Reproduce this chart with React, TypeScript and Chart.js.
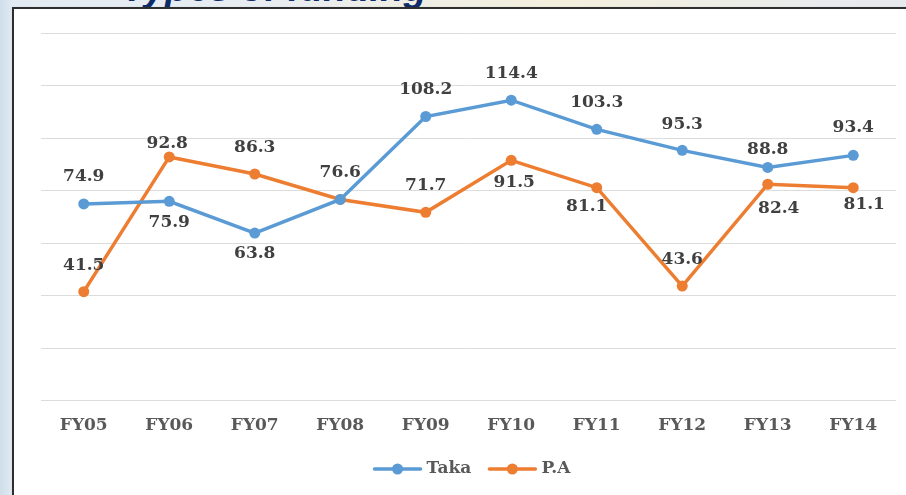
import React, { useEffect, useRef } from "react";
import { Chart, registerables } from "chart.js";

Chart.register(...registerables);

const categories = ["FY05", "FY06", "FY07", "FY08", "FY09", "FY10", "FY11", "FY12", "FY13", "FY14"];
const takaValues = [74.9, 75.9, 63.8, 76.6, 108.2, 114.4, 103.3, 95.3, 88.8, 93.4];
const paValues = [41.5, 92.8, 86.3, 76.6, 71.7, 91.5, 81.1, 43.6, 82.4, 81.1];
const yTicks = { min: 0, max: 140, step: 20 };
const seriesNames = ["Taka", "P.A"];
const titleText = "Types of funding";

// label placement (dx, dy from point centre); null = no label
const takaLabelOffsets: ([number, number] | null)[] = [
  [0, -27], [0, 21], [0, 20], null, [0, -27], [0, -27], [0, -27], [0, -26], [0, -18], [0, -28],
];
const paLabelOffsets: ([number, number] | null)[] = [
  [0, -26], [-2, -13], [0, -26], [0, -27], [0, -27], [3, 22], [-10, 19], [0, -27], [11, 24], [11, 17],
];

const BLUE = "#5B9BD5";
const ORANGE = "#ED7D31";
const FONT = "'DejaVu Serif', 'Liberation Serif', serif";

const labelPlugin = {
  id: "customLabels",
  afterDatasetsDraw(chart: any) {
    const ctx = chart.ctx;
    const offsets = [takaLabelOffsets, paLabelOffsets];
    ctx.save();
    ctx.font = `bold 17px ${FONT}`;
    ctx.fillStyle = "#404040";
    ctx.textAlign = "center";
    ctx.textBaseline = "middle";
    chart.data.datasets.forEach((ds: any, di: number) => {
      const meta = chart.getDatasetMeta(di);
      meta.data.forEach((pt: any, i: number) => {
        const off = offsets[di][i];
        if (!off) return;
        ctx.fillText(ds.data[i].toFixed(1), pt.x + off[0], pt.y + off[1]);
      });
    });
    ctx.restore();
  },
  afterDraw(chart: any) {
    const ctx = chart.ctx;
    const area = chart.chartArea;
    ctx.save();
    ctx.font = `bold 17px ${FONT}`;
    const lineLen = 46;
    const gapText = 6;
    const gapItems = 18;
    const items = chart.data.datasets.map((ds: any) => ({
      label: ds.label,
      color: ds.borderColor,
      w: lineLen + gapText + ctx.measureText(ds.label).width,
    }));
    const total = items.reduce((s: number, it: any) => s + it.w, 0) + gapItems * (items.length - 1);
    let x = (area.left + area.right) / 2 + 4 - total / 2;
    const y = 469;
    items.forEach((it: any) => {
      ctx.strokeStyle = it.color;
      ctx.lineWidth = 3.5;
      ctx.lineCap = "round";
      ctx.beginPath();
      ctx.moveTo(x, y);
      ctx.lineTo(x + lineLen, y);
      ctx.stroke();
      ctx.fillStyle = it.color;
      ctx.beginPath();
      ctx.arc(x + lineLen / 2, y, 5.5, 0, Math.PI * 2);
      ctx.fill();
      ctx.fillStyle = "#595959";
      ctx.textAlign = "left";
      ctx.textBaseline = "middle";
      ctx.fillText(it.label, x + lineLen + gapText, y);
      x += it.w + gapItems;
    });
    ctx.restore();
  },
};

export default function App() {
  const canvasRef = useRef<HTMLCanvasElement | null>(null);

  useEffect(() => {
    if (!canvasRef.current) return;
    const chart = new Chart(canvasRef.current, {
      type: "line",
      data: {
        labels: categories,
        datasets: [
          {
            label: seriesNames[0],
            data: takaValues,
            borderColor: BLUE,
            backgroundColor: BLUE,
            pointBackgroundColor: BLUE,
            pointBorderWidth: 0,
            pointRadius: 5.5,
            borderWidth: 3.5,
            tension: 0,
          },
          {
            label: seriesNames[1],
            data: paValues,
            borderColor: ORANGE,
            backgroundColor: ORANGE,
            pointBackgroundColor: ORANGE,
            pointBorderWidth: 0,
            pointRadius: 5.5,
            borderWidth: 3.5,
            tension: 0,
          },
        ],
      },
      options: {
        animation: false,
        responsive: false,
        devicePixelRatio: 1,
        layout: { padding: { left: 41, right: 10, top: 33, bottom: 52 } },
        plugins: { legend: { display: false }, tooltip: { enabled: false } },
        scales: {
          x: {
            offset: true,
            grid: { display: false },
            border: { display: false },
            ticks: {
              color: "#595959",
              font: { family: FONT, size: 17, weight: "bold" },
              padding: 7,
              maxRotation: 0,
            },
          },
          y: {
            min: yTicks.min,
            max: yTicks.max,
            border: { display: false },
            grid: { color: "#dcdcdc", lineWidth: 1, drawTicks: false },
            ticks: { stepSize: yTicks.step, display: false },
          },
        },
      },
      plugins: [labelPlugin],
    });
    return () => chart.destroy();
  }, []);

  return (
    <div
      style={{
        position: "fixed",
        left: 0,
        top: 0,
        width: 906,
        height: 495,
        overflow: "hidden",
        background:
          "radial-gradient(ellipse 300px 40px at 560px 0px, #f4efdc 0%, rgba(244,239,220,0) 100%), linear-gradient(to right, #cfdeeb 0%, #e3ebf2 1.5%, #e9edf0 40%, #e6eaee 100%)",
      }}
    >
      <div
        style={{
          position: "absolute",
          left: 122,
          top: -31,
          fontFamily: "'Liberation Sans', Arial, sans-serif",
          fontStyle: "italic",
          fontWeight: "bold",
          fontSize: 38,
          lineHeight: "38px",
          color: "#0d2a6b",
          whiteSpace: "nowrap",
        }}
      >
        {titleText}
      </div>
      <div
        style={{
          position: "absolute",
          left: 12,
          top: 7,
          width: 1000,
          height: 600,
          background: "#ffffff",
          border: "2px solid #2e2e2e",
          boxShadow: "1px 1px 2px rgba(0,0,0,0.3)",
        }}
      />
      <canvas
        ref={canvasRef}
        width={906}
        height={495}
        style={{ position: "absolute", left: 0, top: 0, width: 906, height: 495 }}
      />
    </div>
  );
}
